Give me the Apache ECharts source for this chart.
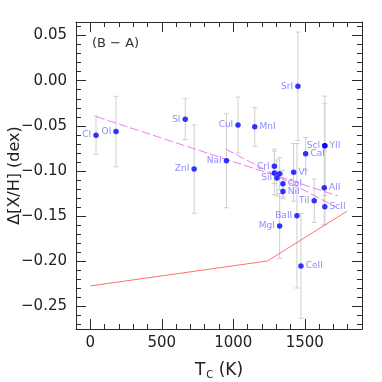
<!DOCTYPE html>
<html>
<head>
<meta charset="utf-8">
<script src="https://cdn.jsdelivr.net/npm/echarts@6/dist/echarts.min.js"></script>
<style>
  html, body { margin: 0; padding: 0; background: #fff; }
  #chart { width: 382px; height: 382px; }
</style>
</head>
<body>
<div id="chart"></div>
<script>
// element abundances vs condensation temperature
const elements = ['CI', 'OI', 'SI', 'ZnI', 'NaI', 'CuI', 'MnI', 'CrI', '', '', 'SiI', 'CoI', 'NiI',
                  'MgI', 'VI', 'BaII', 'SrI', 'CeII', 'CaI', 'TiI', 'AlI', 'ScI', 'YII', 'ScII'];
const tc     = [40, 180, 664, 726, 952, 1033, 1150, 1287, 1287, 1324, 1305, 1347, 1347,
                1324, 1422, 1445, 1452, 1473, 1506, 1566, 1636, 1640, 1640, 1640];
const dXH    = [-0.0603, -0.0563, -0.0426, -0.0979, -0.0887, -0.0492, -0.0511, -0.0948, -0.1021, -0.1032, -0.1077, -0.1140, -0.1228,
                -0.1610, -0.1015, -0.1496, -0.0061, -0.2052, -0.0810, -0.1330, -0.1186, -0.0721, -0.0721, -0.1396];
const errs   = [0.021, 0.039, 0.0227, 0.049, 0.052, 0.031, 0.0215, 0.019, 0.024, 0.018, 0.020, 0.015, 0.008,
                0.036, 0.032, 0.080, 0.060, 0.058, 0.018, 0.024, 0.041, 0.047, 0.055, 0.020];

// fitted lines
const fitAllTc  = [40, 1730];
const fitAllVal = [-0.0397, -0.1276];
const fitHotTc  = [947, 1720];
const fitHotVal = [-0.0758, -0.1400];
const refTc     = [0, 1238, 1797];
const refVal    = [-0.2273, -0.1997, -0.1444];

// axis ticks
const xMajor = [0, 500, 1000, 1500];
const yMajor = [0.05, 0.00, -0.05, -0.10, -0.15, -0.20, -0.25];

const xMinor = [];
for (let v = -100; v <= 1900; v += 100) xMinor.push(v);
const yMinor = [];
for (let k = -27; k <= 6; k++) yMinor.push(Math.round(k) / 100);

const rightLabels = new Set(['MnI', 'CoI', 'NiI', 'VI', 'CaI', 'AlI', 'YII', 'ScII', 'CeII']);

const FONT = 'DejaVu Sans';
const AXIS = '#2a2a2a';

function xAx(pos, ticks, len, withLine, withLabel) {
  return {
    type: 'value', min: -100, max: 1900, position: pos,
    axisLine: { show: withLine, onZero: false, lineStyle: { color: AXIS, width: 1 } },
    axisTick: { show: true, inside: true, length: len, customValues: ticks, lineStyle: { color: AXIS } },
    axisLabel: withLabel
      ? {
          show: true, customValues: xMajor, fontFamily: FONT, fontSize: 15, color: '#222', margin: 7,
          formatter: v => String(v)
        }
      : { show: false },
    splitLine: { show: false }
  };
}

function yAx(pos, ticks, len, withLine, withLabel) {
  return {
    type: 'value', min: -0.275, max: 0.065, position: pos,
    axisLine: { show: withLine, onZero: false, lineStyle: { color: AXIS, width: 1 } },
    axisTick: { show: true, inside: true, length: len, customValues: ticks, lineStyle: { color: AXIS } },
    axisLabel: withLabel
      ? {
          show: true, customValues: yMajor, fontFamily: FONT, fontSize: 15, color: '#222', margin: 9,
          formatter: v => (v < -1e-9 ? '\u2212' : '') + Math.abs(v).toFixed(2)
        }
      : { show: false },
    splitLine: { show: false }
  };
}

const xAxes = [
  xAx('bottom', xMajor, 10, true, true),
  xAx('bottom', xMinor, 5, false, false),
  xAx('top', xMajor, 10, true, false),
  xAx('top', xMinor, 5, false, false)
];
Object.assign(xAxes[0], {
  name: '{t|T}{s|C}{t| (K)}', nameLocation: 'middle', nameGap: 32, nameMoveOverlap: false,
  nameTextStyle: {
    fontFamily: FONT, color: '#222',
    rich: {
      t: { fontFamily: FONT, fontSize: 17, color: '#222' },
      s: { fontFamily: FONT, fontSize: 10, color: '#222', padding: [9, 0, 0, 1] }
    }
  }
});

const yAxes = [
  yAx('left', yMajor, 10, true, true),
  yAx('left', yMinor, 5, false, false),
  yAx('right', yMajor, 10, true, false),
  yAx('right', yMinor, 5, false, false)
];
Object.assign(yAxes[0], {
  name: '\u0394[X/H] (dex)', nameLocation: 'middle', nameGap: 53, nameMoveOverlap: false,
  nameTextStyle: { fontFamily: FONT, fontSize: 16, color: '#222' }
});

const barData = tc.map((t, i) => [t, dXH[i] - errs[i], dXH[i] + errs[i]]);
const pointData = elements.map((e, i) => ({
  value: [tc[i], dXH[i]],
  name: e,
  label: { position: rightLabels.has(e) ? 'right' : 'left' }
}));

const chart = echarts.init(document.getElementById('chart'));
chart.setOption({
  animation: false,
  backgroundColor: '#fff',
  grid: { left: 76, right: 20, top: 22, bottom: 53, containLabel: false, outerBoundsMode: 'none' },
  xAxis: xAxes,
  yAxis: yAxes,
  graphic: [{
    type: 'text', left: 92, top: 37,
    style: { text: '(B \u2212 A)', font: '13px "DejaVu Sans"', fill: '#333' }
  }],
  series: [
    {
      type: 'custom',
      xAxisIndex: 0, yAxisIndex: 0,
      data: barData,
      encode: { x: 0, y: [1, 2] },
      z: 1,
      renderItem: (params, api) => {
        const lo = api.coord([api.value(0), api.value(1)]);
        const hi = api.coord([api.value(0), api.value(2)]);
        const st = { stroke: '#cfcfcf', lineWidth: 1 };
        const c = 2.5;
        return {
          type: 'group',
          children: [
            { type: 'line', shape: { x1: lo[0], y1: lo[1], x2: hi[0], y2: hi[1] }, style: st },
            { type: 'line', shape: { x1: lo[0] - c, y1: lo[1], x2: lo[0] + c, y2: lo[1] }, style: st },
            { type: 'line', shape: { x1: hi[0] - c, y1: hi[1], x2: hi[0] + c, y2: hi[1] }, style: st }
          ]
        };
      }
    },
    {
      type: 'line', xAxisIndex: 0, yAxisIndex: 0, z: 2,
      data: fitAllTc.map((t, i) => [t, fitAllVal[i]]),
      symbol: 'none',
      lineStyle: { color: '#f07af0', width: 1, type: [9, 3] }
    },
    {
      type: 'line', xAxisIndex: 0, yAxisIndex: 0, z: 2,
      data: fitHotTc.map((t, i) => [t, fitHotVal[i]]),
      symbol: 'none',
      lineStyle: { color: '#f07af0', width: 1, type: [9, 3] }
    },
    {
      type: 'line', xAxisIndex: 0, yAxisIndex: 0, z: 2,
      data: refTc.map((t, i) => [t, refVal[i]]),
      symbol: 'none',
      lineStyle: { color: '#ff7070', width: 1 }
    },
    {
      type: 'scatter', xAxisIndex: 0, yAxisIndex: 0, z: 3,
      data: pointData,
      symbol: 'circle', symbolSize: 5.5,
      itemStyle: { color: '#0000ff' },
      label: {
        show: true, formatter: p => p.name, distance: 2,
        fontFamily: FONT, fontSize: 9, color: '#6e6eff'
      }
    }
  ]
});
</script>
</body>
</html>
